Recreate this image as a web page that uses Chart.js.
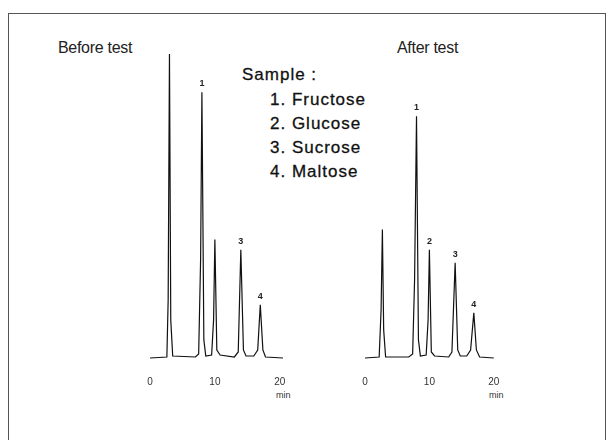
<!DOCTYPE html>
<html>
<head>
<meta charset="utf-8">
<script src="https://cdn.jsdelivr.net/npm/chart.js@4"></script>
<style>
  body { margin: 0; background: #fff; font-family: "Liberation Sans", Arial, sans-serif; }
  #wrap { position: relative; width: 609px; height: 440px; overflow: hidden; }
  #frame { position: absolute; left: 8px; top: 13px; width: 596px; height: 440px; border: 1.5px solid #555; }
  .txt { position: absolute; color: #222; white-space: nowrap; }
  .big { font-size: 16px; letter-spacing: -0.3px; }
  .sample { font-size: 17px; letter-spacing: 1px; color: #111; -webkit-text-stroke: 0.3px #111; }
  .min { font-size: 9px; color: #333; }
  canvas { position: absolute; }
</style>
</head>
<body>
<div id="wrap">
  <div id="frame"></div>
  <div class="txt big" style="left:58px; top:39px;">Before test</div>
  <div class="txt big" style="left:397px; top:39px;">After test</div>
  <div class="txt sample" style="left:242px; top:65px;">Sample :</div>
  <div class="txt sample" style="left:270px; top:90px;">1. Fructose</div>
  <div class="txt sample" style="left:270px; top:114px;">2. Glucose</div>
  <div class="txt sample" style="left:270px; top:138px;">3. Sucrose</div>
  <div class="txt sample" style="left:270px; top:162px;">4. Maltose</div>
  <div class="txt min" style="left:276px; top:390px;">min</div>
  <div class="txt min" style="left:489px; top:390px;">min</div>
  <canvas id="before" width="153" height="345" style="left:140px; top:49px;"></canvas>
  <canvas id="after" width="152" height="345" style="left:355px; top:49px;"></canvas>
</div>
<script>
const xTicks = [0, 10, 20];

const beforeTime = [0, 2.6, 2.8, 3.0, 3.2, 3.5, 7.0, 7.5, 7.8, 8.0, 8.3, 8.6, 9.5, 9.8, 10.0, 10.3, 10.8, 13.0, 13.6, 14.0, 14.4, 14.8, 16.0, 16.6, 17.0, 17.4, 17.8, 20.5];
const beforeSignal = [2, 3, 60, 305, 40, 4, 3, 6, 100, 267, 20, 4, 5, 40, 120, 10, 5, 3, 8, 110, 10, 4, 4, 10, 55, 10, 3, 2];
const beforeLabels = [{ t: 8.0, v: 267, text: '1' }, { t: 14.0, v: 110, text: '3' }, { t: 17.0, v: 55, text: '4' }];

const afterTime = [0, 2.2, 2.5, 2.7, 2.9, 3.2, 6.8, 7.4, 7.7, 8.0, 8.3, 8.6, 9.5, 9.8, 10.0, 10.3, 10.8, 13.0, 13.5, 14.0, 14.4, 14.8, 15.8, 16.4, 16.9, 17.3, 17.8, 20.0];
const afterSignal = [2, 3, 50, 130, 30, 3, 3, 6, 80, 243, 20, 4, 5, 40, 110, 8, 4, 3, 8, 97, 10, 4, 4, 10, 47, 10, 3, 2];
const afterLabels = [{ t: 8.0, v: 243, text: '1' }, { t: 10.0, v: 110, text: '2' }, { t: 14.0, v: 97, text: '3' }, { t: 16.9, v: 47, text: '4' }];

const peakLabelPlugin = {
    id: 'peakLabels',
    afterDatasetsDraw(chart, args, opts) {
        const ctx = chart.ctx;
        ctx.save();
        ctx.font = 'bold 9px "Liberation Sans", Arial, sans-serif';
        ctx.fillStyle = '#222';
        ctx.textAlign = 'center';
        ctx.textBaseline = 'bottom';
        opts.items.forEach(p => {
            ctx.fillText(p.text, chart.scales.x.getPixelForValue(p.t), chart.scales.y.getPixelForValue(p.v) - 4);
        });
        ctx.restore();
    }
};

function makeChart(id, times, signal, labels) {
    return new Chart(document.getElementById(id), {
        type: 'line',
        data: {
            datasets: [{
                data: times.map((t, i) => ({ x: t, y: signal[i] })),
                borderColor: '#111',
                borderWidth: 1.2,
                pointRadius: 0,
                tension: 0
            }]
        },
        options: {
            responsive: false,
            animation: false,
            layout: { padding: { left: 10, right: 10, top: 0, bottom: 0 } },
            plugins: { legend: { display: false }, tooltip: { enabled: false }, peakLabels: { items: labels } },
            scales: {
                x: {
                    type: 'linear', min: 0, max: 20.5,
                    afterBuildTicks: s => { s.ticks = xTicks.map(v => ({ value: v })); },
                    grid: { drawOnChartArea: false, tickLength: 10, color: '#fff' },
                    border: { display: false },
                    ticks: { color: '#333', font: { size: 10 }, padding: 6 }
                },
                y: { display: false, min: 0, max: 310 }
            }
        },
        plugins: [peakLabelPlugin]
    });
}

makeChart('before', beforeTime, beforeSignal, beforeLabels);
makeChart('after', afterTime, afterSignal, afterLabels);
</script>
</body>
</html>
